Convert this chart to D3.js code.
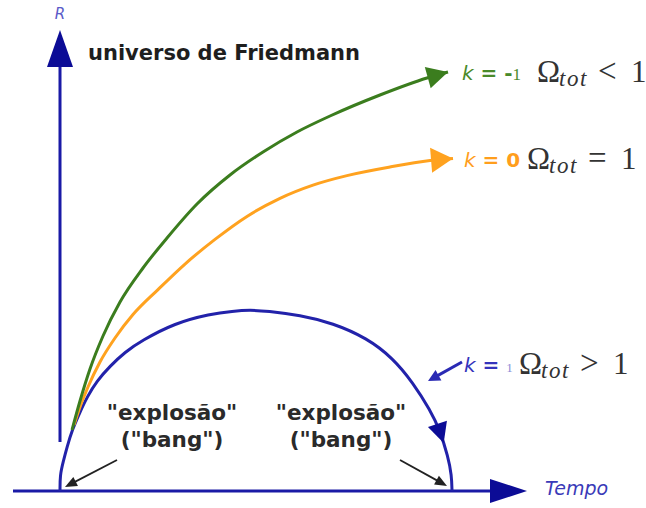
<!DOCTYPE html>
<html><head><meta charset="utf-8">
<script src="https://cdn.jsdelivr.net/npm/d3@7"></script>
<style>body{margin:0;background:#fff}svg{display:block}</style>
</head><body>
<svg id="c" width="646" height="508"></svg>
<script>
// ---- data (time units 0..100 = big bang to big crunch, R units 0..100 = max of closed model) ----
const seriesNames = ["k = -1", "k = 0", "k = 1"];
const omegaRel = ["<", "=", ">"];
const openT   = [3.06, 5.10, 7.65, 10.97, 15.31, 21.17, 27.30, 34.95, 43.37, 51.79, 60.46, 68.88, 81.63, 93.62, 98.98];
const openR   = [33.70, 49.72, 67.40, 85.64, 104.42, 123.20, 139.78, 158.56, 174.59, 187.29, 198.34, 207.18, 218.78, 228.18, 231.49];
const flatT   = [3.57, 5.10, 7.14, 10.20, 14.03, 18.62, 25.00, 31.89, 39.54, 47.70, 56.12, 64.54, 73.21, 84.18, 94.39, 100.26];
const flatR   = [36.46, 46.41, 57.46, 71.27, 84.53, 97.46, 111.27, 125.41, 139.01, 151.71, 161.71, 169.01, 174.25, 179.01, 182.54, 183.70];
const closedT = [0, 0, 0.8, 1.8, 3.1, 5.1, 6.9, 9.4, 12.8, 16.6, 20.7, 29.3, 38.3, 44.1, 48.5, 52.8, 61.2, 69.6, 78.3, 84.9, 90.1, 94.4, 96.9, 99.0, 99.9, 100];
const closedR = [0, 8.8, 16.0, 24.3, 33.7, 43.6, 51.9, 60.8, 69.1, 76.8, 82.9, 92.8, 97.8, 99.4, 100, 99.4, 97.2, 92.8, 84.5, 73.5, 59.7, 44.8, 33.7, 18.8, 8.8, 0];
const bangT = [0, 100];   // big bang / big crunch instants

const colGreen = "#3b7d1e", colOrange = "#ffa21f", colBlue = "#2222aa", colAxis = "#1a1aa6", colHead = "#0c0c96";

const svg = d3.select("#c");
const xs = d3.scaleLinear().domain([0, 100]).range([60, 452]);
const ys = d3.scaleLinear().domain([0, 100]).range([491, 310]);

const lineClosed = d3.line().x(d => xs(d[0])).y(d => ys(d[1])).curve(d3.curveBasis);
const lineOpen = d3.line().x(d => xs(d[0])).y(d => ys(d[1])).curve(d3.curveMonotoneX);
const zip = (a, b) => a.map((v, i) => [v, b[i]]);

function head(g, tip, ang, L, W, color) {
  const c = Math.cos(ang), s = Math.sin(ang);
  const bx = tip[0] - L * c, by = tip[1] - L * s;
  const pts = [tip, [bx - W * s, by + W * c], [bx + W * s, by - W * c]];
  g.append("polygon").attr("points", pts.map(p => p.join(",")).join(" ")).attr("fill", color);
}

// axes
const x0 = xs(0), y0 = ys(0);
svg.append("line").attr("x1", 13).attr("y1", y0).attr("x2", 495).attr("y2", y0)
  .attr("stroke", colAxis).attr("stroke-width", 3);
head(svg, [527, y0], 0, 37, 12, colHead);
svg.append("line").attr("x1", x0).attr("y1", 442).attr("x2", x0).attr("y2", 62)
  .attr("stroke", colAxis).attr("stroke-width", 3);
head(svg, [x0, 30], -Math.PI / 2, 37, 13, colHead);

svg.append("text").attr("x", x0).attr("y", 19).attr("text-anchor", "middle")
  .attr("font-family", "DejaVu Sans").attr("font-style", "italic").attr("font-size", 15)
  .attr("fill", "#5a5ac8").text("R");
svg.append("text").attr("x", 545).attr("y", 495)
  .attr("font-family", "DejaVu Sans").attr("font-style", "italic").attr("font-size", 19)
  .attr("fill", "#3a3ab8").text("Tempo");

// curves
function drawCurve(gen, T, R, color, endHead) {
  const p = svg.append("path").attr("d", gen(zip(T, R))).attr("fill", "none")
    .attr("stroke", color).attr("stroke-width", 3);
  if (endHead) {
    const n = p.node(), len = n.getTotalLength();
    const a = n.getPointAtLength(len), b = n.getPointAtLength(len - 12);
    head(svg, [a.x, a.y], Math.atan2(a.y - b.y, a.x - b.x), endHead[0], endHead[1], color);
  }
  return p;
}
const closedPath = drawCurve(lineClosed, closedT, closedR, colBlue, null);
drawCurve(lineOpen, flatT, flatR, colOrange, [22, 12.5]);
drawCurve(lineOpen, openT, openR, colGreen, [21, 11]);

// mid-arc arrow on closed curve
(function () {
  const n = closedPath.node(), len = n.getTotalLength();
  let best = 0, bd = 1e9;
  for (let l = len * 0.6; l <= len; l += 0.5) {
    const pt = n.getPointAtLength(l);
    const d = Math.abs(pt.y - 443);
    if (d < bd) { bd = d; best = l; }
  }
  const a = n.getPointAtLength(best), b = n.getPointAtLength(best - 6);
  head(svg, [a.x, a.y], Math.atan2(a.y - b.y, a.x - b.x), 20, 10, colHead);
})();

// pointer arrows
function pointer(x1, y1, x2, y2, color, w, L, W) {
  const ang = Math.atan2(y2 - y1, x2 - x1);
  svg.append("line").attr("x1", x1).attr("y1", y1)
    .attr("x2", x2 - (L - 2) * Math.cos(ang)).attr("y2", y2 - (L - 2) * Math.sin(ang))
    .attr("stroke", color).attr("stroke-width", w);
  head(svg, [x2, y2], ang, L, W, color);
}
pointer(117, 460, xs(bangT[0]) + 5, 487, "#222", 1.8, 12, 5);
pointer(400, 460, xs(bangT[1]) - 5, 486, "#222", 1.8, 12, 5);
pointer(462, 362, 428, 381, "#2a2ab4", 3, 12, 6);

// texts
const sans = "DejaVu Sans";
svg.append("text").attr("x", 88).attr("y", 60).attr("font-family", sans).attr("font-weight", "bold")
  .attr("font-size", 21).attr("fill", "#1e1e1e").text("universo de Friedmann");

function bang(cx) {
  const t = svg.append("text").attr("font-family", sans).attr("font-weight", "bold")
    .attr("font-size", 21.5).attr("fill", "#2a2a2a").attr("text-anchor", "middle");
  t.append("tspan").attr("x", cx).attr("y", 420).text("\"explosão\"");
  t.append("tspan").attr("x", cx).attr("y", 447).text("(\"bang\")");
}
bang(172);
bang(341);

const labelRows = [
  { x: 462, ox: 537, y: 80, col: "#4a8a2a" },
  { x: 464, ox: 527, y: 167, col: "#ff9e1c" },
  { x: 464, ox: 519, y: 372, col: "#3434bb" }
];
const serif = "Liberation Serif";
labelRows.forEach((r, i) => {
  const parts = seriesNames[i].split(" ");
  const t = svg.append("text").attr("x", r.x).attr("y", r.y).attr("font-family", sans)
    .attr("font-size", 20).attr("fill", r.col);
  t.append("tspan").attr("font-style", "italic").text(parts[0]);
  t.append("tspan").attr("font-weight", "bold").text(" " + parts[1] + " ");
  const v = parts[2];
  if (v === "0") t.append("tspan").attr("font-weight", "bold").text(v);
  else if (v === "-1") { t.append("tspan").attr("font-weight", "bold").text("-");
    t.append("tspan").attr("font-family", serif).attr("font-size", 17).text("1"); }
  else t.append("tspan").attr("font-family", serif).attr("font-size", 13).attr("fill", "#8a8ad8").text(v);

  svg.append("text").attr("x", r.ox).attr("y", r.y + 2).attr("font-family", serif).attr("font-size", 31)
    .attr("fill", "#333").text("Ω");
  svg.append("text").attr("x", r.ox + 22).attr("y", r.y + 6).attr("font-family", serif).attr("font-style", "italic")
    .attr("font-size", 23).attr("letter-spacing", 1.5).attr("fill", "#333").text("tot");
  svg.append("text").attr("x", r.ox + 61).attr("y", r.y + 2).attr("font-family", serif).attr("font-size", 33)
    .attr("fill", "#333").text(omegaRel[i]);
  svg.append("text").attr("x", r.ox + 94).attr("y", r.y + 2).attr("font-family", serif).attr("font-size", 31)
    .attr("fill", "#333").text("1");
});
</script>
</body></html>
